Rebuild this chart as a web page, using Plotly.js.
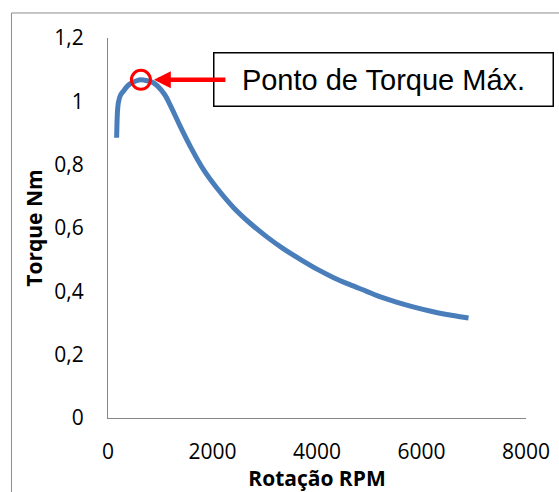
<!DOCTYPE html>
<html>
<head>
<meta charset="utf-8">
<script src="https://cdn.plot.ly/plotly-3.0.1.min.js"></script>
<style>
  html, body { margin: 0; padding: 0; background: #fff; }
  #chart { width: 559px; height: 492px; }
</style>
</head>
<body>
<div id="chart"></div>
<script>
// Motor torque curve: torque (N·m) versus shaft speed (RPM)
const rpm = [165, 172, 182, 200, 240, 294, 360, 421, 548, 630, 750, 850, 950, 1090,
             1200, 1380, 1600, 1825, 2080, 2400, 2720, 3040, 3360, 3680, 4000, 4310,
             4630, 4950, 5200, 5520, 5840, 6160, 6480, 6740, 6900];
const torque = [0.885, 0.930, 0.970, 0.997, 1.020, 1.032, 1.046, 1.055, 1.065, 1.068,
                1.065, 1.060, 1.048, 1.020, 0.985, 0.922, 0.850, 0.785, 0.727, 0.665,
                0.615, 0.572, 0.534, 0.501, 0.470, 0.444, 0.421, 0.400, 0.383, 0.366,
                0.351, 0.338, 0.327, 0.320, 0.316];

const xTickVals = [0, 2000, 4000, 6000, 8000];
const xTickText = ['0', '2000', '4000', '6000', '8000'];
const yTickVals = [0, 0.2, 0.4, 0.6, 0.8, 1.0, 1.2];
const yTickText = ['0', '0,2', '0,4', '0,6', '0,8', '1', '1,2'];

const xTitle = 'Rotação RPM';
const yTitle = 'Torque Nm';
const peakLabel = 'Ponto de Torque Máx.';

// locate the maximum-torque point
let peakIdx = 0;
torque.forEach((t, i) => { if (t > torque[peakIdx]) peakIdx = i; });
const peakRpm = rpm[peakIdx];
const peakTorque = torque[peakIdx];

const tickFont = { family: 'Open Sans, sans-serif', size: 21, color: '#000' };
const titleFont = { family: 'Open Sans, sans-serif', size: 21, color: '#000', weight: 'bold' };

const traces = [
  {
    x: rpm, y: torque, type: 'scatter', mode: 'lines',
    line: { color: '#4A7EBB', width: 5, shape: 'spline', smoothing: 0.8 },
    hoverinfo: 'skip', showlegend: false
  },
  {
    x: [peakRpm], y: [peakTorque], type: 'scatter', mode: 'markers',
    marker: { symbol: 'circle-open', size: 19, color: '#FF0000', line: { width: 3, color: '#FF0000' } },
    hoverinfo: 'skip', showlegend: false
  }
];

const layout = {
  width: 559, height: 492,
  margin: { l: 108, r: 33, t: 38, b: 74, pad: 0 },
  paper_bgcolor: '#fff', plot_bgcolor: '#fff',
  showlegend: false,
  xaxis: {
    range: [0, 8000], tickvals: xTickVals, ticktext: xTickText,
    showline: true, linecolor: '#868686', linewidth: 1,
    showgrid: false, zeroline: false, ticks: '',
    tickfont: tickFont, ticklabelstandoff: 15,
    title: { text: xTitle, font: titleFont, standoff: 7 }
  },
  yaxis: {
    range: [0, 1.2], tickvals: yTickVals, ticktext: yTickText,
    showline: true, linecolor: '#868686', linewidth: 1,
    showgrid: false, zeroline: false, ticks: '',
    tickfont: tickFont, ticklabelstandoff: 19,
    title: { text: yTitle, font: titleFont, standoff: 5 }
  },
  shapes: [
    {
      // outer chart frame
      type: 'rect', xref: 'paper', yref: 'paper', layer: 'below',
      x0: -0.2309, x1: 1.2, y0: -0.3, y1: 1.0658,
      line: { color: '#8C8C8C', width: 1 }, fillcolor: 'rgba(0,0,0,0)'
    }
  ],
  annotations: [
    {
      // label box
      x: peakRpm, y: peakTorque, xref: 'x', yref: 'y',
      xanchor: 'left', yanchor: 'middle', xshift: 72, yshift: 0,
      text: peakLabel, showarrow: false,
      font: { family: 'Liberation Sans, Arial, sans-serif', size: 29, color: '#000' },
      width: 338, height: 52, align: 'center', valign: 'middle',
      bordercolor: '#000', borderwidth: 1.5, borderpad: 0, bgcolor: '#fff'
    },
    {
      // arrow pointing at the maximum
      x: peakRpm, y: peakTorque, xref: 'x', yref: 'y',
      ax: 86, ay: 0, text: '', showarrow: true,
      arrowhead: 2, arrowsize: 0.75, arrowwidth: 4.5, arrowcolor: '#FF0000',
      standoff: 13
    }
  ]
};

Plotly.newPlot('chart', traces, layout, { displayModeBar: false, staticPlot: true });
</script>
</body>
</html>
